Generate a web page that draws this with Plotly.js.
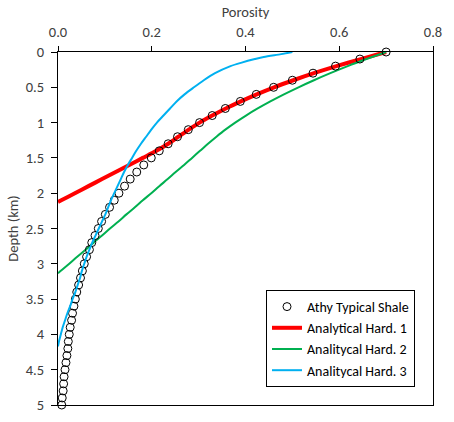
<!DOCTYPE html>
<html>
<head>
<meta charset="utf-8">
<script src="https://cdn.plot.ly/plotly-3.0.1.min.js"></script>
<style>html,body{margin:0;padding:0;background:#fff;}#chart{width:454px;height:422px;}</style>
</head>
<body>
<div id="chart"></div>
<script>
// Athy typical shale (markers)
const athyDepth = [0,0.1,0.2,0.3,0.4,0.5,0.6,0.7,0.8,0.9,1.0,1.1,1.2,1.3,1.4,1.5,1.6,1.7,1.8,1.9,2.0,2.1,2.2,2.3,2.4,2.5,2.6,2.7,2.8,2.9,3.0,3.1,3.2,3.3,3.4,3.5,3.6,3.7,3.8,3.9,4.0,4.1,4.2,4.3,4.4,4.5,4.6,4.7,4.8,4.9,5.0];
const athyPor = [0.700,0.644,0.592,0.544,0.500,0.460,0.423,0.389,0.357,0.329,0.302,0.278,0.255,0.235,0.216,0.199,0.183,0.168,0.154,0.142,0.130,0.120,0.110,0.101,0.093,0.086,0.079,0.072,0.067,0.061,0.056,0.052,0.048,0.044,0.040,0.037,0.034,0.031,0.029,0.026,0.024,0.022,0.021,0.019,0.017,0.015,0.013,0.012,0.011,0.009,0.008];

// Analytical Hard. 1 (red)
const hard1Depth = [0,0.1,0.2,0.3,0.4,0.5,0.6,0.7,0.8,0.9,1.0,1.1,1.2,1.3,1.4,1.5,1.6,1.7,1.8,1.9,2.0,2.1,2.125];
const hard1Por = [0.700,0.646,0.594,0.546,0.502,0.461,0.424,0.390,0.358,0.329,0.302,0.279,0.257,0.235,0.210,0.181,0.152,0.123,0.094,0.065,0.036,0.007,0];

// Analitycal Hard. 2 (green)
const hard2Depth = [0,0.1,0.2,0.3,0.4,0.5,0.6,0.7,0.8,0.9,1.0,1.1,1.2,1.3,1.4,1.5,1.6,1.7,1.8,1.9,2.0,2.1,2.2,2.3,2.4,2.5,2.6,2.7,2.8,2.9,3.0,3.1,3.135];
const hard2Por = [0.700,0.658,0.618,0.581,0.546,0.513,0.482,0.453,0.426,0.401,0.378,0.357,0.338,0.320,0.303,0.286,0.269,0.251,0.234,0.216,0.199,0.181,0.164,0.146,0.129,0.111,0.094,0.076,0.059,0.041,0.024,0.006,0];

// Analitycal Hard. 3 (blue)
const hard3Depth = [0,0.03,0.07,0.1,0.15,0.2,0.3,0.4,0.5,0.6,0.7,0.8,0.9,1.0,1.1,1.2,1.3,1.4,1.5,1.6,1.7,1.8,1.9,2.0,2.1,2.2,2.3,2.4,2.5,2.6,2.7,2.8,2.9,3.0,3.1,3.2,3.3,3.4,3.5,3.6,3.7,3.8,3.9,4.0,4.1,4.17];
const hard3Por = [0.500,0.476,0.439,0.420,0.392,0.368,0.335,0.311,0.290,0.270,0.253,0.239,0.225,0.211,0.199,0.188,0.177,0.167,0.158,0.149,0.141,0.134,0.127,0.120,0.113,0.107,0.101,0.094,0.087,0.080,0.073,0.067,0.061,0.056,0.051,0.047,0.042,0.037,0.031,0.026,0.020,0.015,0.010,0.006,0.002,0];

const seriesNames = ["Athy Typical Shale","Analytical Hard. 1","Analitycal Hard. 2","Analitycal Hard. 3"];
const xTickVals = [0,0.2,0.4,0.6,0.8];
const yTickVals = [0,0.5,1,1.5,2,2.5,3,3.5,4,4.5,5];

const FONT = "Carlito, Calibri, Lato, 'Liberation Sans', sans-serif";
const TXT = "#404040";
const FS = 14.5;

const traces = [
  {x: hard1Por, y: hard1Depth, mode: "lines", name: seriesNames[1], legendrank: 2, legendgroup: "b",
   line: {color: "#FF0000", width: 4, shape: "spline", smoothing: 0.8}},
  {x: hard2Por, y: hard2Depth, mode: "lines", name: seriesNames[2], legendrank: 3, legendgroup: "c",
   line: {color: "#00B050", width: 2, shape: "spline", smoothing: 0.8}},
  {x: athyPor, y: athyDepth, mode: "markers", name: seriesNames[0], legendrank: 1, legendgroup: "a",
   cliponaxis: false,
   marker: {symbol: "circle-open", size: 8, color: "#000000", line: {width: 1, color: "#000000"}}},
  {x: hard3Por, y: hard3Depth, mode: "lines", name: seriesNames[3], legendrank: 4, legendgroup: "d",
   line: {color: "#00B0F0", width: 2, shape: "spline", smoothing: 0.8}}
];

const layout = {
  width: 454, height: 422,
  margin: {l: 58, r: 21, t: 52, b: 17, pad: 0},
  paper_bgcolor: "#ffffff", plot_bgcolor: "#ffffff",
  font: {family: FONT, size: FS, color: TXT},
  showlegend: true,
  xaxis: {
    side: "top", range: [0, 0.8], tickvals: xTickVals, tickformat: ".1f",
    showgrid: false, zeroline: false,
    showline: true, linecolor: "#000000", linewidth: 1, mirror: true,
    ticks: "outside", ticklen: 5, tickcolor: "#000000", tickwidth: 1,
    ticklabelstandoff: 3,
    tickfont: {family: FONT, size: FS, color: TXT},
    title: {text: "Porosity", font: {family: FONT, size: FS, color: TXT}, standoff: 2}
  },
  yaxis: {
    range: [5, 0], tickvals: yTickVals,
    showgrid: false, zeroline: false,
    showline: true, linecolor: "#000000", linewidth: 1, mirror: true,
    ticks: "outside", ticklen: 6, tickcolor: "#000000", tickwidth: 1,
    ticklabelstandoff: 4,
    tickfont: {family: FONT, size: FS, color: TXT},
    title: {text: "Depth (km)", font: {family: FONT, size: FS, color: TXT}, standoff: 3}
  },
  legend: {
    x: 0.952, y: 0.051, xanchor: "right", yanchor: "bottom",
    bgcolor: "#ffffff", bordercolor: "#000000", borderwidth: 1,
    font: {family: FONT, size: 14, color: "#000000"},
    itemwidth: 30,
    traceorder: "grouped", tracegroupgap: 0
  }
};

Plotly.newPlot("chart", traces, layout, {displayModeBar: false, staticPlot: true});
</script>
</body>
</html>
